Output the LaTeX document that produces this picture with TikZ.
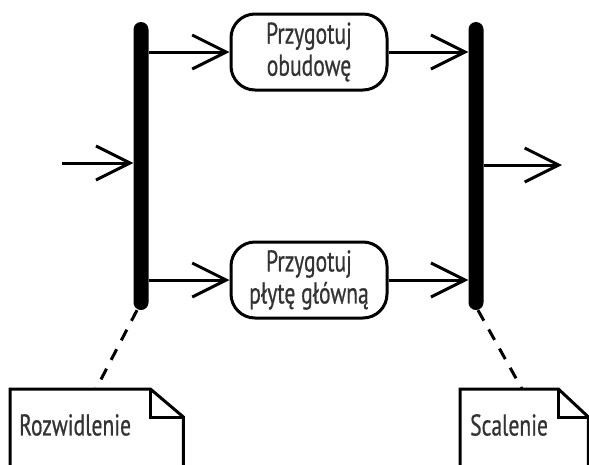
\documentclass[tikz,border=0pt]{standalone}
\usepackage{fontspec}
\setmainfont[FakeStretch=0.72, FakeBold=0.6]{PT Sans}
\usetikzlibrary{arrows.meta}
\begin{document}
\begin{tikzpicture}[x=1pt,y=-1pt,
  bar/.style={fill=black, rounded corners=7.5pt, minimum width=15pt,
    minimum height=288pt, inner sep=0pt},
  action/.style={draw, line width=3pt, rounded corners=24pt,
    minimum width=156pt, minimum height=76pt, align=center,
    text=black!80, font=\fontsize{30}{32}\selectfont, inner sep=2pt},
  flow/.style={line width=3pt,
    -{Straight Barb[length=34pt, width=34pt, line width=3pt]}},
  noteline/.style={line width=3pt, line join=miter},
  notebody/.style={inner sep=0pt, minimum height=84pt},
  notetext/.style={text=black!80, font=\fontsize{30}{32}\selectfont, inner sep=0pt},
  anchorlink/.style={line width=3pt, dash pattern=on 12pt off 10pt}]
  \useasboundingbox (0,0) rectangle (589,464);
  \clip (0,0) rectangle (589,464);

  % fork and join bars
  \node[bar] (fork) at (141,166) {};
  \node[bar] (join) at (476,166) {};

  % actions
  \node[action] (case) at (309,52) {Przygotuj\\obudowę};
  \node[action] (board) at (309,280) {Przygotuj\\płytę główną};

  % control flow
  \coordinate (start) at (62,163);
  \coordinate (finish) at (562,165);
  \draw[flow] (start) -- (start -| fork.west);
  \draw[flow] (case.west -| fork.east) -- (case.west);
  \draw[flow] (board.west -| fork.east) -- (board.west);
  \draw[flow] (case.east) -- (case.east -| join.west);
  \draw[flow] (board.east) -- (board.east -| join.west);
  \draw[flow] (finish -| join.east) -- (finish);

  % notes (dog-eared corner at the top right)
  \node[notebody, anchor=north west, minimum width=173pt] (forknote) at (10,389) {};
  \node[notetext, anchor=west] (forktext) at (19,425) {Rozwidlenie};
  \draw[noteline] (forknote.south west) -- (forknote.north west)
    -- ([xshift=-33pt]forknote.north east) -- ([yshift=-28pt]forknote.north east)
    -- (forknote.south east);
  \draw[noteline] ([xshift=-33pt]forknote.north east) |- ([yshift=-28pt]forknote.north east);

  \node[notebody, anchor=north west, minimum width=128pt] (joinnote) at (460,389) {};
  \node[notetext, anchor=west] (jointext) at (470,425) {Scalenie};
  \draw[noteline] (joinnote.south west) -- (joinnote.north west)
    -- ([xshift=-30pt]joinnote.north east) -- ([yshift=-28pt]joinnote.north east)
    -- (joinnote.south east);
  \draw[noteline] ([xshift=-30pt]joinnote.north east) |- ([yshift=-28pt]joinnote.north east);

  % note anchors
  \coordinate (forkpin) at (96,389);
  \coordinate (joinpin) at (522,389);
  \draw[anchorlink] ([xshift=-4pt]fork.south) -- (forkpin);
  \draw[anchorlink] ([xshift=2pt]join.south) -- (joinpin);
\end{tikzpicture}
\end{document}
